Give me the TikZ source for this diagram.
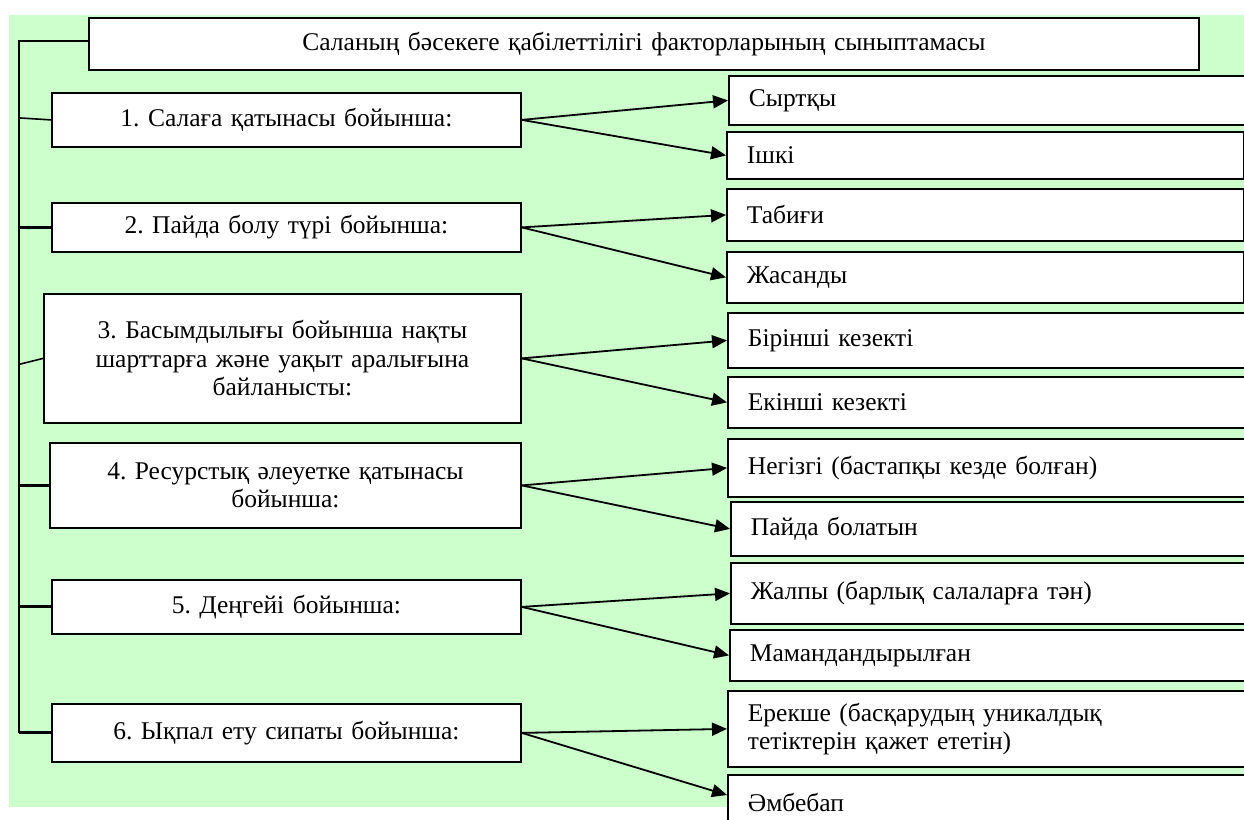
\documentclass[tikz,border=0pt]{standalone}
\usepackage{fontspec}
\setmainfont{Liberation Serif}
\usetikzlibrary{arrows.meta}
\definecolor{bggreen}{RGB}{204,255,204}
\newcommand{\boxfont}{\fontsize{25.5}{28.5}\selectfont\frenchspacing}
\tikzset{
  box/.style={draw=black, line width=1.8pt, fill=white, inner ysep=0pt, font=\boxfont, anchor=north west},
  lbox/.style={box, align=center, inner xsep=10pt},
  rbox/.style={box, align=left, inner xsep=20pt},
  arr/.style={-{Triangle[length=15pt,width=13pt]}, line width=1.8pt},
  tree/.style={line width=2.2pt},
  thin tree/.style={line width=1.6pt},
  thick tree/.style={line width=3pt}
}
\begin{document}
\begin{tikzpicture}[x=1pt,y=-1pt]
\useasboundingbox (0,0) rectangle (1244,819);
\fill[bggreen] (9,15) rectangle (1244,807);
\coordinate (spine) at (19,40);

% title
\node[box, align=center, inner xsep=10pt, text width=1090pt, minimum height=52pt] (title) at (88,17) {Саланың бәсекеге қабілеттілігі факторларының сыныптамасы};

% left boxes
\node[lbox, text width=449pt, minimum height=54pt] (b1) at (51,92) {1. Салаға қатынасы бойынша:};
\node[lbox, text width=449pt, minimum height=49pt] (b2) at (51,202) {2. Пайда болу түрі бойынша:};
\node[lbox, text width=457pt, minimum height=129pt] (b3) at (43,293) {3. Басымдылығы бойынша нақты\\шарттарға және уақыт аралығына\\байланысты:};
\node[lbox, text width=451pt, minimum height=85pt] (b4) at (49,442) {4. Ресурстық әлеуетке қатынасы\\бойынша:};
\node[lbox, text width=449pt, minimum height=54pt] (b5) at (51,579) {5. Деңгейі бойынша:};
\node[lbox, text width=449pt, minimum height=58pt] (b6) at (51,703) {6. Ықпал ету сипаты бойынша:};

% right boxes
\node[rbox, text width=484pt, minimum height=49pt] (r1) at (728,75) {Сыртқы};
\node[rbox, text width=477pt, minimum height=47pt] (r2) at (726,131) {Ішкі};
\node[rbox, text width=477pt, minimum height=52pt] (r3) at (726,188) {Табиғи};
\node[rbox, text width=477pt, minimum height=51pt] (r4) at (726,251) {Жасанды};
\node[rbox, text width=483pt, minimum height=55pt] (r5) at (727,312) {Бірінші кезекті};
\node[rbox, text width=483pt, minimum height=51pt] (r6) at (727,376) {Екінші кезекті};
\node[rbox, text width=483pt, minimum height=58pt] (r7) at (727,438) {Негізгі (бастапқы кезде болған)};
\node[rbox, text width=480pt, minimum height=54pt] (r8) at (730,501) {Пайда болатын};
\node[rbox, text width=480pt, minimum height=61pt] (r9) at (730,562) {Жалпы (барлық салаларға тән)};
\node[rbox, text width=481pt, minimum height=51pt] (r10) at (729,629) {Мамандандырылған};
\node[rbox, text width=483pt, minimum height=76pt] (r11) at (727,690) {Ерекше (басқарудың уникалдық\\тетіктерін қажет ететін)};
\node[rbox, text width=483pt, minimum height=56pt] (r12) at (727,774) {Әмбебап};

% tree on the left
\draw[tree] ([yshift=3pt]title.west) -- ([yshift=3pt]title.west -| spine) -- (b6.west -| spine);
\draw[thick tree] (b6.west -| spine) -- (b6.west);
\draw[thin tree] ([yshift=2pt]b1.west -| spine) -- (b1.west);
\draw[thick tree] (b2.west -| spine) -- (b2.west);
\draw[thin tree] ([yshift=-6pt]b3.west -| spine) -- (b3.west);
\draw[tree] (b4.west -| spine) -- (b4.west);
\draw[thick tree] (b5.west -| spine) -- (b5.west);

% arrows
\draw[arr] (b1.east) -- (r1.west);
\draw[arr] (b1.east) -- (r2.west);
\draw[arr] (b2.east) -- (r3.west);
\draw[arr] (b2.east) -- (r4.west);
\draw[arr] (b3.east) -- (r5.west);
\draw[arr] (b3.east) -- (r6.west);
\draw[arr] (b4.east) -- (r7.west);
\draw[arr] (b4.east) -- (r8.west);
\draw[arr] (b5.east) -- (r9.west);
\draw[arr] (b5.east) -- (r10.west);
\draw[arr] (b6.east) -- (r11.west);
\draw[arr] (b6.east) -- ([yshift=-21pt]r12.north west);
\end{tikzpicture}
\end{document}
